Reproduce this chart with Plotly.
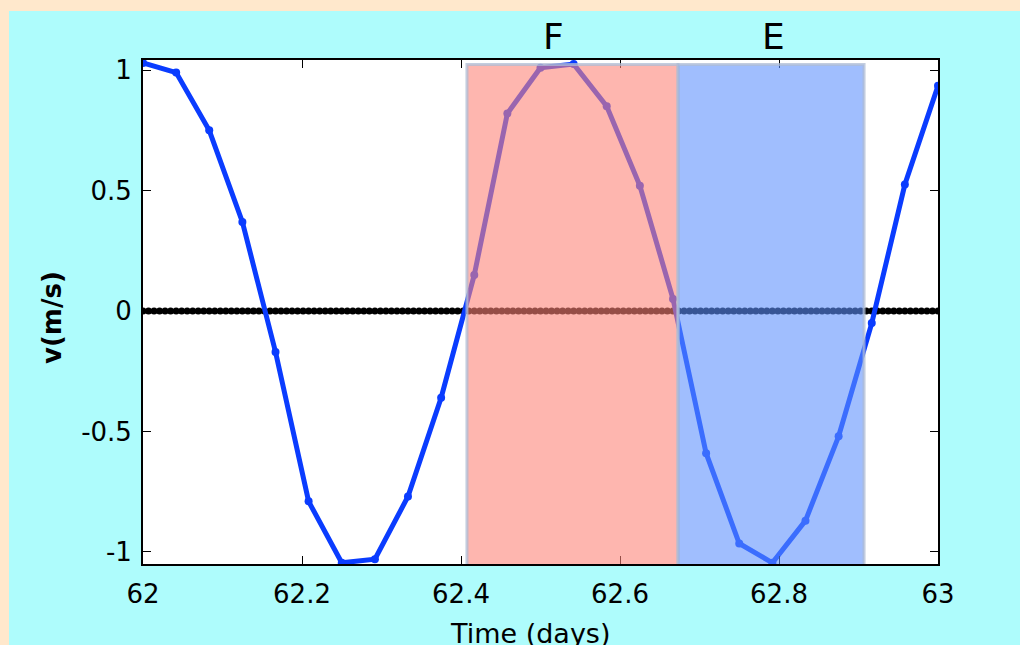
import plotly.graph_objects as go

# ---- data ----
hour_times = [62.0, 62.0417, 62.0833, 62.125, 62.1667, 62.2083, 62.25, 62.2917,
              62.3333, 62.375, 62.4167, 62.4583, 62.5, 62.5417, 62.5833, 62.625,
              62.6667, 62.7083, 62.75, 62.7917, 62.8333, 62.875, 62.9167, 62.9583, 63.0]
velocity = [1.03, 0.99, 0.75, 0.37, -0.17, -0.79, -1.045, -1.03,
            -0.77, -0.36, 0.15, 0.82, 1.01, 1.025, 0.85, 0.52,
            0.05, -0.59, -0.965, -1.045, -0.87, -0.52, -0.05, 0.525, 0.935]

zero_times = [62 + i / 144 for i in range(145)]
zero_values = [0.0] * len(zero_times)

x_ticks = [62, 62.2, 62.4, 62.6, 62.8, 63]
x_tick_labels = ["62", "62.2", "62.4", "62.6", "62.8", "63"]
y_ticks = [-1, -0.5, 0, 0.5, 1]
y_tick_labels = ["-1", "-0.5", "0", "0.5", "1"]

regions = ["F", "E"]
region_start = [62.4075, 62.673]
region_end = [62.673, 62.907]
region_top = [1.023, 1.023]
region_fill = ["rgba(254,131,119,0.59)", "rgba(93,144,254,0.59)"]
region_label_x = [62.516, 62.7925]

x_title = "Time (days)"
y_title = "v(m/s)"

# ---- figure ----
fig = go.Figure()

fig.add_trace(go.Scatter(
    x=zero_times, y=zero_values, mode="lines+markers",
    line=dict(color="black", width=3.5),
    marker=dict(color="black", size=7),
    showlegend=False, hoverinfo="skip",
))
fig.add_trace(go.Scatter(
    x=hour_times, y=velocity, mode="lines+markers",
    line=dict(color="#0A3CFF", width=5),
    marker=dict(color="#0A3CFF", size=8),
    showlegend=False,
))

L, T = 143, 60
W, H = 795, 504
def px(xp):
    return (xp - L) / W
def py(yp):
    return (T + H - yp) / H

# peach frame strips (top and left), paper is cyan
fig.add_shape(type="rect", xref="paper", yref="paper",
              x0=px(-20), x1=px(1040), y0=py(11), y1=py(-20),
              fillcolor="#FFE8CC", line=dict(width=0), layer="below")
fig.add_shape(type="rect", xref="paper", yref="paper",
              x0=px(-20), x1=px(9), y0=py(660), y1=py(-20),
              fillcolor="#FFE8CC", line=dict(width=0), layer="below")

for name, x0, x1, top, fill, lx in zip(regions, region_start, region_end,
                                       region_top, region_fill, region_label_x):
    fig.add_shape(type="rect", xref="x", yref="y",
                  x0=x0, x1=x1, y0=-1.06, y1=top,
                  fillcolor=fill,
                  line=dict(color="rgba(175,188,212,0.75)", width=3),
                  layer="above")
    fig.add_annotation(x=lx, xref="x", y=py(37), yref="paper",
                       text=name, showarrow=False,
                       font=dict(family="Comic Sans MS, DejaVu Sans", size=36, color="black"),
                       xanchor="center", yanchor="middle")

fig.add_annotation(x=px(529.5), xref="paper", y=py(633), yref="paper",
                   text=x_title, showarrow=False,
                   font=dict(family="DejaVu Sans", size=27, color="black"),
                   xanchor="center", yanchor="middle")
fig.add_annotation(x=px(52), xref="paper", y=py(318), yref="paper",
                   text="<b>" + y_title + "</b>", showarrow=False, textangle=-90,
                   font=dict(family="DejaVu Sans", size=26, color="black"),
                   xanchor="center", yanchor="middle")

axis_common = dict(showline=True, linecolor="black", linewidth=1.8, mirror="ticks",
                   ticks="inside", ticklen=8, tickwidth=1.2, tickcolor="black",
                   showgrid=False, zeroline=False,
                   tickfont=dict(family="DejaVu Sans", size=26, color="black"))

fig.update_xaxes(range=[62, 63], tickvals=x_ticks, ticktext=x_tick_labels,
                 ticklabelstandoff=6, **axis_common)
fig.update_yaxes(range=[-1.05, 1.042], tickvals=y_ticks, ticktext=y_tick_labels,
                 ticklabelstandoff=4, **axis_common)

fig.update_layout(
    width=1020, height=645,
    margin=dict(l=L, r=1020 - L - W, t=T, b=645 - T - H, pad=0),
    paper_bgcolor="#AEFCFC", plot_bgcolor="white",
    showlegend=False,
)

fig.write_html("out.html")
